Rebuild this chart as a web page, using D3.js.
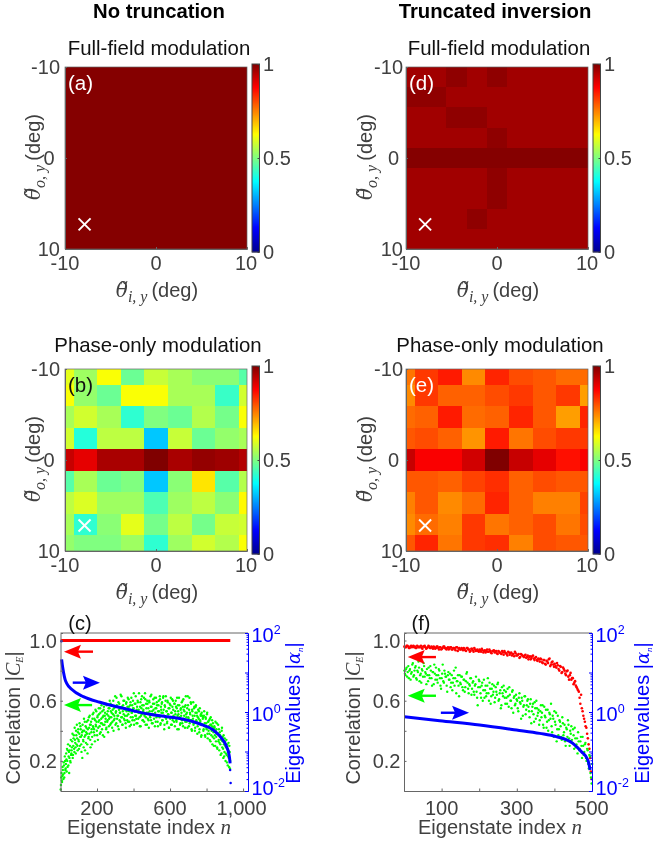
<!DOCTYPE html>
<html><head><meta charset="utf-8">
<script src="https://cdn.jsdelivr.net/npm/d3@7"></script>
<style>html,body{margin:0;padding:0;background:#fff}svg{display:block;filter:blur(0.35px)}text{font-family:"Liberation Sans",Arial,sans-serif}</style>
</head><body><div id="chart"></div>
<script>
// ---------- heat-map data (rows top to bottom, columns left to right) ----------
const wholeEdges = [-10, 10];
const uniformEdges = [-10,-7.78,-5.56,-3.33,-1.11,1.11,3.33,5.56,7.78,10];
const phaseXEdges = [-10,-9.05,-6.44,-3.87,-1.27,1.34,3.94,6.51,9.12,10];
const phaseYEdges = [-10,-8.28,-5.89,-3.54,-1.19,1.19,3.54,5.89,8.24,10];
const valuesA = [[0.995]];
const valuesD = [
 [.968,.968,.985,.968,.985,.968,.968,.968,.968],
 [.985,.985,.968,.968,.968,.968,.968,.968,.968],
 [.968,.968,.985,.985,.968,.968,.968,.968,.968],
 [.968,.968,.968,.968,.985,.968,.968,.968,.968],
 [.995,.995,.995,.995,.995,.995,.995,.995,.995],
 [.968,.968,.968,.968,.985,.968,.968,.968,.968],
 [.968,.968,.968,.968,.985,.968,.968,.968,.968],
 [.968,.968,.968,.985,.968,.968,.968,.968,.968],
 [.968,.968,.968,.968,.968,.968,.968,.968,.968]];
const valuesB = [
 [.60,.53,.62,.48,.57,.54,.51,.51,.46],
 [.62,.52,.48,.62,.62,.54,.54,.43,.58],
 [.54,.58,.54,.42,.50,.48,.55,.49,.62],
 [.58,.41,.56,.56,.32,.57,.48,.52,.54],
 [.93,.90,.96,.96,1.0,.96,.98,.97,.95],
 [.46,.54,.48,.50,.32,.51,.65,.46,.55],
 [.56,.59,.53,.53,.45,.53,.56,.51,.63],
 [.54,.42,.51,.60,.49,.56,.49,.57,.58],
 [.52,.50,.50,.53,.42,.53,.58,.55,.62]];
const valuesE = [
 [.76,.82,.85,.74,.84,.80,.79,.77,.77],
 [.74,.82,.78,.78,.80,.82,.79,.82,.72],
 [.77,.78,.85,.77,.78,.84,.79,.72,.84],
 [.79,.80,.78,.73,.85,.76,.80,.82,.82],
 [.93,.88,.88,.92,1.0,.93,.90,.86,.88],
 [.79,.79,.78,.81,.83,.78,.80,.79,.79],
 [.75,.79,.74,.77,.84,.78,.75,.75,.81],
 [.74,.77,.75,.82,.76,.78,.80,.76,.80],
 [.79,.84,.76,.82,.83,.75,.80,.79,.79]];
const heatTicks = [-10,0,10];
const barTicks = [0,0.5,1];
const jetStops = [0,.125,.375,.625,.875,1];
const jetColors = ["#00008f","#0000ff","#00ffff","#ffff00","#ff0000","#800000"];

// ---------- eigenstate data ----------
const redCN = [1,930];
const redCValues = [1,1];
const blueCN = [6,10,16,25,34,61,125,216,308,399,490,582,673,764,837,883,910,925,929];
const blueCValues = [21.5,15.5,10.5,6.7,5.3,3.75,2.44,1.76,1.36,1.08,.873,.762,.652,.497,.35,.215,.132,.074,.05];
const blueCDotsN = [5,929,932];
const blueCDotsValues = [61.7,.034,.016];
const greenCValues = [
.01,.09,.07,.1,.14,.08,.17,.12,.2,.15, .25,.13,.2,.27,.17,.26,.22,.3,.19,.24,
.27,.33,.22,.3,.37,.26,.34,.29,.4,.31, .35,.27,.41,.33,.38,.3,.43,.36,.26,.39,
.44,.34,.29,.4,.46,.37,.32,.42,.38,.25, .47,.36,.42,.5,.34,.44,.39,.31,.48,.43,
.52,.41,.37,.47,.44,.53,.4,.49,.34,.46, .51,.43,.55,.39,.48,.45,.53,.37,.5,.56,
.44,.52,.48,.41,.57,.46,.53,.5,.43,.55, .49,.58,.45,.52,.42,.54,.6,.47,.5,.56,
.44,.53,.62,.48,.56,.5,.41,.58,.52,.46, .55,.63,.49,.44,.57,.51,.6,.47,.54,.42,
.59,.5,.56,.46,.61,.53,.43,.57,.49,.62, .52,.47,.6,.55,.44,.58,.5,.63,.48,.54,
.45,.59,.52,.65,.49,.56,.43,.61,.51,.57, .47,.54,.62,.5,.65,.44,.58,.52,.6,.48,
.55,.42,.59,.5,.63,.47,.56,.53,.45,.61, .51,.58,.43,.55,.62,.49,.57,.46,.53,.6,
.5,.63,.44,.56,.52,.59,.47,.62,.54,.41, .57,.49,.63,.53,.45,.6,.51,.55,.42,.58,
.48,.62,.52,.44,.56,.6,.5,.46,.58,.53, .6,.47,.55,.41,.57,.51,.62,.49,.44,.54,
.5,.59,.45,.56,.61,.48,.53,.42,.57,.51, .46,.55,.63,.49,.43,.62,.52,.47,.58,.41,
.54,.5,.59,.45,.56,.4,.52,.57,.46,.5, .43,.54,.48,.39,.55,.46,.51,.37,.5,.44,
.49,.41,.53,.45,.36,.48,.42,.51,.38,.46, .4,.47,.34,.44,.49,.37,.43,.31,.45,.39,
.35,.42,.3,.4,.36,.45,.28,.38,.33,.41, .32,.37,.24,.34,.4,.29,.36,.22,.31,.26,
.33,.2,.29,.24,.31,.17,.27,.22,.3,.15];
const greenCValues2 = [
.04,.12,.06,.16,.11,.19,.09,.23,.14,.18, .21,.28,.16,.31,.23,.12,.27,.2,.34,.25,
.29,.38,.24,.35,.28,.42,.32,.25,.37,.44, .3,.39,.34,.28,.45,.36,.41,.31,.37,.22,
.4,.33,.48,.36,.27,.43,.39,.46,.31,.41, .35,.49,.38,.44,.29,.46,.41,.36,.51,.42,
.39,.48,.33,.54,.43,.46,.37,.5,.42,.55, .47,.38,.52,.45,.57,.41,.49,.44,.54,.36,
.5,.46,.58,.42,.51,.47,.39,.55,.48,.6, .44,.53,.49,.57,.46,.51,.4,.55,.48,.63,
.52,.45,.57,.5,.43,.59,.54,.47,.52,.64, .49,.56,.44,.53,.6,.48,.55,.5,.45,.58,
.53,.47,.62,.51,.56,.46,.54,.59,.44,.52, .57,.49,.55,.65,.47,.53,.58,.5,.45,.56,
.6,.48,.54,.52,.43,.59,.5,.55,.63,.47, .53,.57,.46,.51,.61,.49,.55,.44,.58,.52,
.47,.6,.53,.49,.56,.64,.45,.51,.58,.54, .48,.62,.52,.46,.55,.59,.5,.43,.57,.53,
.49,.61,.45,.54,.58,.47,.52,.63,.5,.44, .56,.6,.48,.53,.46,.59,.51,.42,.55,.49,
.57,.44,.52,.61,.47,.54,.49,.58,.43,.51, .56,.46,.62,.5,.53,.41,.57,.48,.45,.55,
.52,.47,.6,.43,.54,.5,.56,.46,.63,.49, .52,.42,.57,.48,.54,.45,.51,.59,.47,.4,
.53,.48,.44,.55,.5,.42,.56,.47,.52,.38, .49,.45,.53,.41,.47,.5,.36,.52,.44,.48,
.4,.5,.43,.37,.49,.45,.41,.52,.35,.46, .43,.38,.48,.33,.44,.4,.47,.36,.42,.3,
.43,.37,.46,.33,.41,.29,.38,.44,.34,.27, .39,.31,.36,.25,.42,.33,.28,.37,.23,.35,
.3,.25,.34,.19,.28,.23,.32,.16,.26,.2];
const redFValues = [
.96,.955,.965,.95,.96,.955,.965,.96,.95,.96, .955,.965,.945,.96,.955,.95,.965,.95,.96,.945,
.955,.95,.96,.94,.955,.945,.96,.95,.94,.955, .945,.955,.94,.95,.935,.955,.945,.94,.95,.935,
.945,.93,.95,.94,.93,.945,.925,.94,.935,.93, .94,.925,.935,.93,.92,.94,.925,.93,.915,.93,
.92,.93,.91,.925,.915,.93,.905,.92,.91,.925, .905,.92,.91,.895,.915,.9,.91,.89,.905,.895,
.9,.885,.9,.89,.875,.895,.88,.885,.87,.88, .86,.875,.85,.87,.84,.86,.875,.83,.855,.84,
.845,.82,.835,.8,.825,.79,.81,.78,.795,.76, .77,.74,.75,.72,.7,.68,.66,.58,.55,.5,
.46,.42,.35,.28,.13];
const redFValues2 = [
.955,.965,.96,.95,.965,.96,.955,.95,.965,.955, .96,.95,.96,.965,.945,.955,.96,.95,.955,.96,
.945,.96,.95,.955,.94,.95,.96,.945,.95,.94, .955,.94,.95,.945,.955,.93,.95,.94,.945,.95,
.935,.95,.94,.925,.945,.935,.95,.93,.94,.925, .935,.945,.92,.935,.93,.925,.94,.92,.93,.935,
.925,.915,.93,.92,.91,.92,.93,.915,.9,.92, .915,.9,.91,.925,.9,.905,.885,.91,.9,.89,
.905,.89,.875,.895,.885,.9,.87,.89,.865,.875, .88,.855,.87,.845,.865,.85,.88,.84,.86,.825,
.83,.85,.81,.83,.785,.82,.8,.77,.8,.74, .785,.75,.71,.73,.69,.67,.62,.64,.53,.48,
.43,.38,.31,.22,.08];
const greenFValues = [
.8,.77,.82,.79,.75,.81,.78,.84,.76,.8, .83,.74,.79,.82,.77,.72,.8,.85,.76,.78,
.81,.73,.77,.83,.75,.79,.71,.78,.82,.74, .77,.8,.7,.75,.84,.72,.78,.76,.66,.79,
.74,.69,.77,.72,.8,.75,.65,.73,.7,.77, .71,.76,.67,.74,.69,.78,.72,.65,.7,.75,
.68,.73,.64,.71,.66,.57,.74,.69,.62,.72, .67,.62,.7,.65,.75,.6,.68,.63,.71,.66,
.59,.69,.64,.72,.61,.67,.57,.65,.7,.62, .66,.58,.63,.69,.6,.55,.67,.62,.57,.64,
.6,.53,.65,.58,.62,.5,.57,.63,.54,.6, .56,.49,.61,.53,.58,.46,.55,.6,.5,.54,
.47,.57,.52,.44,.56,.49,.42,.54,.47,.51, .58,.39,.48,.53,.44,.33,.5,.41,.46,.36,
.49,.37,.44,.3,.41,.47,.35,.4,.43,.32, .37,.42,.29,.35,.39,.27,.33,.3,.36,.24,
.31,.22,.28,.18,.24,.12,.05];
const greenFValues2 = [
.78,.81,.76,.83,.8,.74,.79,.85,.77,.82, .75,.8,.86,.73,.78,.81,.76,.83,.79,.71,
.77,.82,.75,.8,.7,.79,.84,.74,.77,.72, .81,.75,.68,.78,.73,.8,.76,.7,.77,.74,
.78,.72,.67,.75,.7,.82,.73,.77,.63,.72, .76,.69,.74,.66,.73,.79,.68,.71,.75,.64,
.72,.66,.7,.76,.62,.69,.73,.65,.7,.6, .74,.67,.63,.7,.65,.72,.58,.68,.64,.7,
.62,.66,.71,.6,.65,.55,.69,.63,.67,.58, .62,.68,.56,.64,.6,.66,.52,.63,.58,.61,
.55,.62,.59,.48,.6,.56,.63,.51,.57,.61, .53,.58,.45,.56,.51,.59,.48,.55,.52,.44,
.53,.49,.57,.42,.5,.54,.46,.4,.52,.48, .43,.5,.36,.46,.52,.41,.37,.47,.43,.34,
.45,.39,.33,.42,.36,.44,.3,.38,.34,.41, .28,.35,.31,.25,.33,.28,.36,.22,.3,.26,
.32,.2,.27,.15,.23,.09,.18];
const blueFN = [1,95,201,299,361,405,449,472,489,495];
const blueFValues = [.762,.604,.469,.35,.288,.238,.161,.099,.061,.034];

const corrTicks = [.2,.4,.6,.8,1];
const corrLabelled = [.2,.6,1];
const eigTicks = [.01,.1,1,10,100];
const eigMinor = [.02,.03,.04,.05,.06,.07,.08,.09,.2,.3,.4,.5,.6,.7,.8,.9,2,3,4,5,6,7,8,9,20,30,40,50,60,70,80,90];
const nTicksC = [200,400,600,800,1000];
const nLabelledC = [200,600,1000];
const nTicksF = [100,200,300,400,500];
const nLabelledF = [100,300,500];

const arrowsC = [
 {from:[178,.926],to:[19,.926],color:"#ff0000"},
 {from:[67,.72],to:[216,.72],color:"#0000ff"},
 {from:[173,.571],to:[19,.571],color:"#00ff00"}];
const arrowsF = [
 {from:[85,.89],to:[10,.89],color:"#ff0000"},
 {from:[85,.633],to:[10,.633],color:"#00ff00"},
 {from:[98,.52],to:[173,.52],color:"#0000ff"}];

// ---------- drawing ----------
const W = 653, H = 844;
const INK = "#404040", AX = "#666", FS = 20;
const svg = d3.select("#chart").append("svg").attr("width",W).attr("height",H);
const jet = d3.scaleLinear().domain(jetStops).range(jetColors).clamp(true);

function ctext(x,y,str,o={}){
  return svg.append("text").attr("x",x).attr("y",y).attr("text-anchor",o.anchor||"middle")
    .attr("fill",o.fill||INK).attr("font-size",o.size||FS).attr("font-weight",o.weight||null)
    .text(str);
}
function thetaLabel(g,sub){
  const serif = s=>s.attr("font-family","Liberation Serif").attr("font-style","italic");
  const t = g.append("text").attr("text-anchor","middle").attr("fill",INK).attr("font-size",FS);
  t.append("tspan").attr("font-family","DejaVu Serif").attr("font-style","italic").attr("font-size",20).text("\u03b8\u0303");
  t.append("tspan").call(serif).attr("font-size",16).attr("dy",5).text(sub);
  t.append("tspan").attr("dy",-5).text("\u2009(deg)");
  return t;
}

function heatPanel(p){
  const x = d3.scaleLinear().domain([-10,10]).range([p.x,p.x+182]);
  const y = d3.scaleLinear().domain([-10,10]).range([p.y,p.y+182]);
  const g = svg.append("g");
  p.values.forEach((row,r)=>row.forEach((v,c)=>{
    g.append("rect").attr("x",x(p.xe[c])).attr("y",y(p.ye[r]))
     .attr("width",x(p.xe[c+1])-x(p.xe[c])).attr("height",y(p.ye[r+1])-y(p.ye[r]))
     .attr("fill",jet(v)).attr("shape-rendering","crispEdges");
  }));
  svg.append("g").attr("transform",`translate(0,${p.y+182})`)
    .call(d3.axisBottom(x).tickValues(heatTicks).tickSize(-2).tickFormat(""))
    .call(s=>s.selectAll("path,line").attr("stroke",AX));
  svg.append("g").attr("transform",`translate(${p.x},0)`)
    .call(d3.axisLeft(y).tickValues(heatTicks).tickSize(-2).tickFormat(""))
    .call(s=>s.selectAll("path,line").attr("stroke",AX));
  svg.append("rect").attr("x",p.x).attr("y",p.y).attr("width",182).attr("height",182).attr("fill","none").attr("stroke",AX).attr("stroke-width",.7);
  // tick labels
  heatTicks.forEach(t=>{
    ctext(x(t)+(t===10?-1:0),p.y+182+20.5,t,{});
    ctext(p.yTickX-(t===0?p.zeroShift:0),y(t)+7,t,{anchor:"end"});
  });
  // titles and labels
  ctext(p.x+p.titleDx,p.y-p.titleUp,p.title,{fill:"#111",size:20.4});
  ctext(p.x+3,p.y+22.5,p.tag,{anchor:"start",fill:p.tagFill,size:20.5});
  // cross marker
  const cx=x(p.cross[0]), cy=y(p.cross[1]);
  [[-6,-6,6,6],[-6,6,6,-6]].forEach(d=>svg.append("line").attr("x1",cx+d[0]).attr("y1",cy+d[1]).attr("x2",cx+d[2]).attr("y2",cy+d[3]).attr("stroke","#fff").attr("stroke-width",1.9));
  // x and y label
  const gx=svg.append("g").attr("transform",`translate(${p.x+92},${p.y+230})`); thetaLabel(gx,"i, y");
  const gy=svg.append("g").attr("transform",`translate(${p.yLabX},${p.y+90}) rotate(-90)`); thetaLabel(gy,"o, y");
  // colour bar
  const bx=p.x+187, bw=7.5;
  const cb=d3.scaleLinear().domain([0,1]).range([p.y+185,p.y-3]);
  const steps=d3.range(0,1,1/188);
  svg.append("g").selectAll("rect").data(steps).join("rect").attr("x",bx).attr("width",bw)
    .attr("y",d=>cb(d+1/188)).attr("height",cb(0)-cb(1/188)+.4).attr("fill",d=>jet(d));
  svg.append("rect").attr("x",bx).attr("y",cb(1)).attr("width",bw).attr("height",cb(0)-cb(1)).attr("fill","none").attr("stroke","#444").attr("stroke-width",1);
  svg.append("g").attr("transform",`translate(${bx+bw},0)`)
    .call(d3.axisRight(cb).tickValues(barTicks).tickSize(-2).tickFormat(""))
    .call(s=>{s.select("path").remove();s.selectAll("line").attr("stroke","#444");});
  barTicks.forEach(t=>ctext(bx+bw+3.5,cb(t)+7,t===0.5?"0.5":t,{anchor:"start"}));
}

const columnA = {x:65,yTickX:60,zeroShift:5.5,yLabX:40,titleDx:94,titleUp:12,xe:wholeEdges,ye:wholeEdges};
heatPanel({...columnA,y:67,title:"Full-field modulation",tag:"(a)",tagFill:"#fff",values:valuesA,cross:[-7.85,7.3]});
heatPanel({...columnA,xe:phaseXEdges,ye:phaseYEdges,y:369,titleUp:17,title:"Phase-only modulation",tag:"(b)",tagFill:"#111",values:valuesB,cross:[-7.85,7.2],titleDx:93});
const columnD = {x:406,yTickX:403,zeroShift:4,yLabX:372,titleDx:93,titleUp:12,xe:uniformEdges,ye:uniformEdges};
heatPanel({...columnD,y:67,title:"Full-field modulation",tag:"(d)",tagFill:"#fff",values:valuesD,cross:[-7.9,7.3]});
heatPanel({...columnD,xe:phaseXEdges,ye:phaseYEdges,y:369,titleUp:17,title:"Phase-only modulation",tag:"(e)",tagFill:"#fff",values:valuesE,cross:[-7.9,7.2],titleDx:94});
ctext(159,18,"No truncation",{weight:"bold",fill:"#000",size:20.3});
ctext(495,18,"Truncated inversion",{weight:"bold",fill:"#000",size:20.3});

function eigenPanel(p){
  const top=633,bot=791;
  const x=d3.scaleLinear().domain(p.nDomain).range([p.x0,p.x1]);
  const yc=d3.scaleLinear().domain([0,1.05]).range([bot,top]);
  const ye=d3.scaleLog().domain([.01,100]).range([bot,top]);
  const dots=(name,ns,vals,scale,col,r)=>svg.append("g").attr("class",name).selectAll("circle").data(vals).join("circle")
     .attr("cx",(d,i)=>x(ns[i])).attr("cy",d=>scale(d)).attr("r",r).attr("fill",col);
  p.marks(x,yc,ye,dots);
  // frame and axes
  svg.append("line").attr("x1",p.x0).attr("x2",p.x1).attr("y1",top).attr("y2",top).attr("stroke",AX);
  svg.append("g").attr("transform",`translate(0,${bot})`)
    .call(d3.axisBottom(x).tickValues(p.nTicks).tickSize(-2.5).tickFormat(""))
    .call(s=>s.selectAll("path,line").attr("stroke",AX));
  svg.append("g").attr("transform",`translate(${p.x0},0)`)
    .call(d3.axisLeft(yc).tickValues(corrTicks).tickSize(-2.5).tickFormat(""))
    .call(s=>s.selectAll("path,line").attr("stroke",AX));
  svg.append("g").attr("transform",`translate(${p.x1},0)`)
    .call(d3.axisRight(ye).tickValues(eigTicks).tickSize(-3).tickFormat(""))
    .call(s=>s.selectAll("path,line").attr("stroke","#0000ff"));
  svg.append("g").attr("transform",`translate(${p.x1},0)`)
    .call(d3.axisRight(ye).tickValues(eigMinor).tickSize(-1.5).tickFormat(""))
    .call(s=>{s.select("path").remove();s.selectAll("line").attr("stroke","#0000ff");});
  // arrows
  p.arrows.forEach(a=>{
    const x1=x(a.from[0]),x2=x(a.to[0]),yy=yc(a.to[1]),dir=x2>x1?1:-1;
    svg.append("line").attr("x1",x1).attr("x2",x2-dir*12).attr("y1",yy).attr("y2",yy).attr("stroke",a.color).attr("stroke-width",2.4);
    svg.append("path").attr("d",`M${x2},${yy}L${x2-dir*17},${yy-7}L${x2-dir*14},${yy}L${x2-dir*17},${yy+7}Z`).attr("fill",a.color);
  });
  // tick labels
  p.nLabelled.forEach(t=>ctext(x(t)+(t===1000?-1.5:0),814.5,d3.format(",")(t)));
  corrLabelled.forEach(t=>ctext(p.x0-3.5,yc(t)+7,d3.format(".1f")(t),{anchor:"end"}));
  [[100,"2",635],[1,"0",714],[.01,"-2",788]].forEach(([v,e,yy])=>{
    const t=svg.append("text").attr("x",p.x1+3.5).attr("y",yy+7).attr("fill","#0000ff").attr("font-size",FS);
    t.append("tspan").text("10");
    t.append("tspan").attr("font-size",12.5).attr("dy",-8).text(e);
  });
  ctext(p.tagX,630,p.tag,{fill:"#111"});
  // axis labels
  const xl=svg.append("text").attr("x",p.xLab).attr("y",834).attr("text-anchor","middle").attr("fill",INK).attr("font-size",FS);
  xl.append("tspan").text("Eigenstate index ");
  xl.append("tspan").attr("font-family","Liberation Serif").attr("font-style","italic").attr("font-size",21).text("n");
  const yl=svg.append("text").attr("transform",`translate(${p.leftLab},718) rotate(-90)`).attr("text-anchor","middle").attr("fill",INK).attr("font-size",FS);
  yl.append("tspan").text("Correlation |");
  yl.append("tspan").attr("font-family","Liberation Serif").attr("font-style","italic").text("C");
  yl.append("tspan").attr("font-size",10).attr("dy",3).attr("font-family","Liberation Serif").attr("font-style","italic").text("E");
  yl.append("tspan").attr("dy",-3).text("|");
  const yr=svg.append("text").attr("transform",`translate(${p.rightLab},713) rotate(-90)`).attr("text-anchor","middle").attr("fill","#0000ff").attr("font-size",FS);
  yr.append("tspan").text("Eigenvalues |");
  yr.append("tspan").attr("font-family","DejaVu Serif").attr("font-style","italic").attr("font-size",18).text("\u03b1");
  yr.append("tspan").attr("font-size",9).attr("dy",3).attr("font-family","Liberation Serif").attr("font-style","italic").text("n");
  yr.append("tspan").attr("dy",-3).text("|");
}

eigenPanel({x0:60.5,x1:248,nDomain:[0,1027],nTicks:nTicksC,nLabelled:nLabelledC,tag:"(c)",tagX:80,xLab:149,leftLab:20,rightLab:300,arrows:arrowsC,
 marks:(x,yc,ye,dots)=>{
  dots("green",d3.range(greenCValues.length).map(i=>1+3*i),greenCValues,yc,"#00ff00",1.2);
  dots("green2",d3.range(greenCValues2.length).map(i=>2.5+3*i),greenCValues2,yc,"#00ff00",1.2);
  svg.append("path").attr("d",d3.line().x((d,i)=>x(redCN[i])).y(d=>yc(d))(redCValues)).attr("stroke","#ff0000").attr("stroke-width",3).attr("fill","none");
  svg.append("path").attr("d",d3.line().curve(d3.curveMonotoneX).x((d,i)=>x(blueCN[i])).y(d=>ye(d))(blueCValues)).attr("stroke","#0000ff").attr("stroke-width",3).attr("fill","none");
  dots("blue",blueCDotsN,blueCDotsValues,ye,"#0000ff",1.25);
 }});
eigenPanel({x0:404,x1:592,nDomain:[0,500],nTicks:nTicksF,nLabelled:nLabelledF,tag:"(f)",tagX:421,xLab:500,leftLab:360,rightLab:649,arrows:arrowsF,
 marks:(x,yc,ye,dots)=>{
  dots("red",d3.range(redFValues.length).map(i=>1+4*i),redFValues,yc,"#ff0000",1.3);
  dots("red2",d3.range(redFValues2.length).map(i=>3+4*i),redFValues2,yc,"#ff0000",1.3);
  dots("green",d3.range(greenFValues.length).map(i=>1+3*i),greenFValues,yc,"#00ff00",1.2);
  dots("green2",d3.range(greenFValues2.length).map(i=>2.5+3*i),greenFValues2,yc,"#00ff00",1.2);
  svg.append("path").attr("d",d3.line().curve(d3.curveMonotoneX).x((d,i)=>x(blueFN[i])).y(d=>ye(d))(blueFValues)).attr("stroke","#0000ff").attr("stroke-width",3).attr("fill","none");
 }});
</script></body></html>
